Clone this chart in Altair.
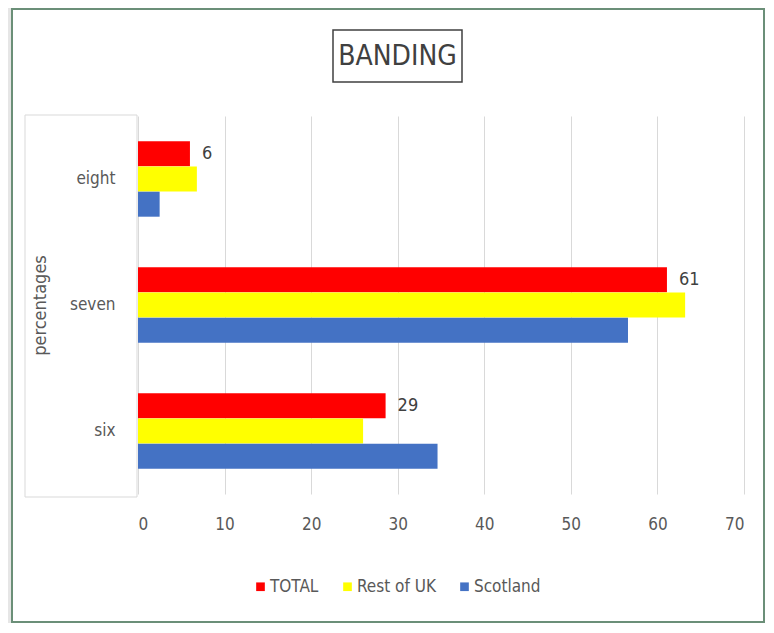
import altair as alt
import pandas as pd

categories = ["eight", "seven", "six"]
series = ["TOTAL", "Rest of UK", "Scotland"]
total = [6.0, 61.1, 28.6]
rest_uk = [6.8, 63.2, 26.0]
scotland = [2.5, 56.6, 34.6]
total_labels = ["6", "61", "29"]
colors = ["#ff0000", "#ffff00", "#4472c4"]
x_ticks = [0, 10, 20, 30, 40, 50, 60, 70]

rows = []
for i, c in enumerate(categories):
    for s, vals in zip(series, [total, rest_uk, scotland]):
        rows.append({"band": c, "series": s, "value": vals[i],
                     "label": total_labels[i] if s == "TOTAL" else ""})
df = pd.DataFrame(rows)

FONT = "Liberation Sans Narrow, DejaVu Sans Condensed, sans-serif"
W, H = 606, 378

y_enc = alt.Y("band:N", sort=categories,
              scale=alt.Scale(paddingInner=0.4, paddingOuter=0.2),
              axis=alt.Axis(title="percentages", titleAngle=-90, titleX=-98, titleY=H / 2,
                            titleAlign="center", titleBaseline="middle",
                            titleFontSize=18, titleFontWeight="normal", titleColor="#595959",
                            titleFont=FONT, labelFont=FONT, labelFontSize=17,
                            labelColor="#595959", labelPadding=23, ticks=False,
                            domain=False, grid=False))
yoff = alt.YOffset("series:N", sort=series, scale=alt.Scale(domain=series))
x_enc = alt.X("value:Q", scale=alt.Scale(domain=[0, 70], nice=False),
              axis=alt.Axis(title=None, values=x_ticks, labelFont=FONT, labelFontSize=17,
                            labelColor="#595959", labelPadding=22, ticks=False, domain=False,
                            grid=True, gridColor="#d9d9d9", gridWidth=1))

base = alt.Chart(df)

bars = base.mark_bar(size=25).encode(
    x=x_enc,
    y=y_enc,
    yOffset=yoff,
    color=alt.Color("series:N", sort=series,
                    scale=alt.Scale(domain=series, range=colors),
                    legend=alt.Legend(title=None, orient="none", direction="horizontal",
                                      legendX=114, legendY=462, symbolType="square",
                                      symbolSize=75, symbolStrokeWidth=0,
                                      labelFont=FONT, labelFontSize=17, labelColor="#595959",
                                      columnPadding=20, labelOffset=1)),
)

labels = base.transform_filter(alt.datum.series == "TOTAL").mark_text(
    align="left", baseline="middle", dx=12, font=FONT, fontSize=18, color="#404040"
).encode(x="value:Q", y=alt.Y("band:N", sort=categories), yOffset=yoff, text="label:N")

# decorations
one = pd.DataFrame({"k": [0]})
frame = alt.Chart(one).mark_rect(
    fill=None, stroke="#6b8f78", strokeWidth=2
).encode(x=alt.value(-126), x2=alt.value(626), y=alt.value(-107), y2=alt.value(506))

left_strip = alt.Chart(one).mark_rect(
    fill="#e6e6e6", stroke=None
).encode(x=alt.value(-130), x2=alt.value(-127), y=alt.value(-108), y2=alt.value(507))

ybox = alt.Chart(one).mark_rect(
    fill=None, stroke="#d9d9d9", strokeWidth=1
).encode(x=alt.value(-113), x2=alt.value(-1), y=alt.value(-1), y2=alt.value(381))

tbox = alt.Chart(one).mark_rect(
    fill="white", stroke="#404040", strokeWidth=1.5
).encode(x=alt.value(195), x2=alt.value(324), y=alt.value(-86), y2=alt.value(-34))

ttext = alt.Chart(pd.DataFrame({"t": ["BANDING"]})).mark_text(
    font=FONT, fontSize=28, color="#404040", align="center", baseline="middle"
).encode(x=alt.value(259.5), y=alt.value(-59), text="t:N")

chart = alt.layer(left_strip, frame, ybox, bars, labels, tbox, ttext).properties(
    width=W, height=H,
    autosize=alt.AutoSizeParams(type="none"),
    padding={"left": 130, "top": 108, "right": 22, "bottom": 129},
    background="white",
).configure_view(stroke=None)

chart.save("out.html", embed_options={"renderer": "svg", "actions": False})
